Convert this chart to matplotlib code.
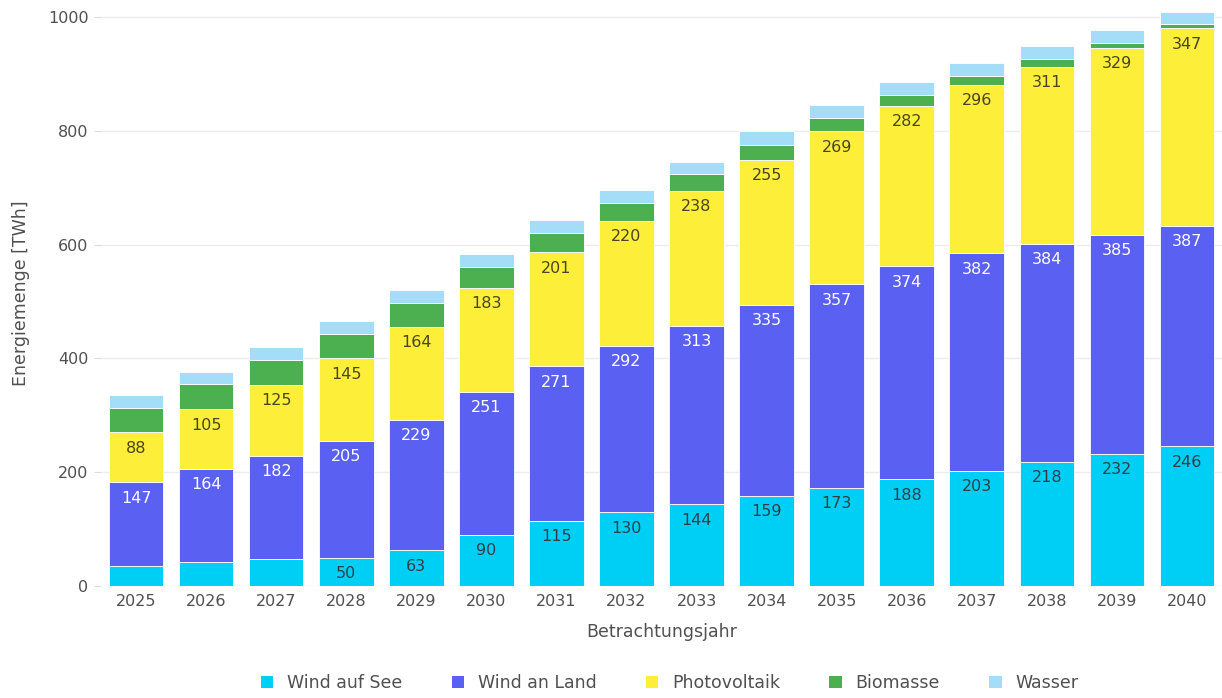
import matplotlib
matplotlib.use("Agg")
import matplotlib.pyplot as plt
from matplotlib.patches import Patch
import numpy as np

years = [str(y) for y in range(2025, 2041)]
wind_see = [35, 42, 47, 50, 63, 90, 115, 130, 144, 159, 173, 188, 203, 218, 232, 246]
wind_land = [147, 164, 182, 205, 229, 251, 271, 292, 313, 335, 357, 374, 382, 384, 385, 387]
pv = [88, 105, 125, 145, 164, 183, 201, 220, 238, 255, 269, 282, 296, 311, 329, 347]
biomasse = [43, 44, 44, 43, 42, 37, 33, 32, 29, 27, 24, 19, 16, 14, 9, 7]
wasser = [22, 22, 22, 22, 23, 23, 23, 22, 22, 23, 23, 23, 22, 22, 23, 22]

series = [
    ("Wind auf See", wind_see, "#00CFF5", "#2f3f4a"),
    ("Wind an Land", wind_land, "#5A60F2", "#ffffff"),
    ("Photovoltaik", pv, "#FDEE3A", "#4a4520"),
    ("Biomasse", biomasse, "#4CAF50", None),
    ("Wasser", wasser, "#A3DDF8", None),
]

text_col = "#505050"
plt.rcParams['font.family'] = ['DejaVu Sans']

fig = plt.figure(figsize=(12.22, 6.98), dpi=100)
ax = fig.add_axes([101/1222, (698-586)/698, 1 - 101/1222, 586/698])

x = np.arange(len(years))
bottom = np.zeros(len(years))
for name, vals, col, lcol in series:
    vals = np.array(vals, dtype=float)
    ax.bar(x, vals, bottom=bottom, width=0.78, color=col, label=name, zorder=3,
           edgecolor='white', linewidth=0.6)
    if lcol is not None:
        for xi, b, v in zip(x, bottom, vals):
            if v >= 50:
                ax.annotate(f"{int(v)}", xy=(xi, b + v), xytext=(0, -11.5),
                            textcoords='offset points', ha='center', va='center',
                            fontsize=11.5, color=lcol, zorder=4)
    bottom += vals

ax.set_xlim(-0.5, len(years) - 0.5)
ax.set_ylim(0, 1030)
ax.set_yticks([0, 200, 400, 600, 800, 1000])
ax.set_xticks(x)
ax.set_xticklabels(years)
ax.grid(axis='y', color='#ececec', linewidth=1, zorder=0)
for s in ax.spines.values():
    s.set_visible(False)
ax.tick_params(axis='y', length=5, color='#dddddd', labelsize=11.5, labelcolor=text_col, pad=4)
ax.tick_params(axis='x', length=0, labelsize=11.5, labelcolor=text_col, pad=6)
ax.set_xlabel("Betrachtungsjahr", fontsize=12.5, color=text_col, labelpad=10)
ax.set_ylabel("Energiemenge [TWh]", fontsize=12.5, color=text_col, labelpad=13)

handles = [Patch(facecolor=c, edgecolor='none') for _, _, c, _ in series]
labels = [n for n, _, _, _ in series]
leg = fig.legend(handles, labels, loc='center', bbox_to_anchor=(0.548, 0.021), ncol=5,
                 frameon=False, fontsize=12.5, handlelength=0.7, handleheight=0.7,
                 handletextpad=0.8, columnspacing=2.85)
for t in leg.get_texts():
    t.set_color(text_col)

fig.savefig("out.png", dpi=100, facecolor='white')
